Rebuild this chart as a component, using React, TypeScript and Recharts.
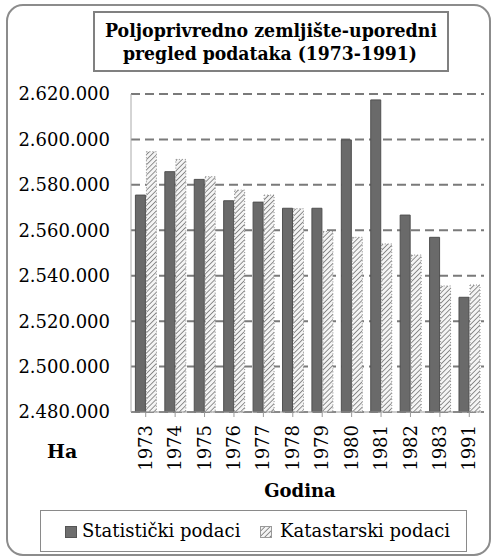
import React from 'react';
import { BarChart, Bar, XAxis, YAxis, CartesianGrid, Legend } from 'recharts';

const YEARS = ['1973', '1974', '1975', '1976', '1977', '1978', '1979', '1980', '1981', '1982', '1983', '1991'];
const STATISTICKI = [2575500, 2585800, 2582400, 2573000, 2572400, 2569700, 2569700, 2599800, 2617400, 2566700, 2556900, 2530500];
const KATASTARSKI = [2594600, 2591200, 2583600, 2577700, 2575500, 2569500, 2559500, 2556900, 2554000, 2549100, 2535500, 2535900];
const Y_TICKS = [2480000, 2500000, 2520000, 2540000, 2560000, 2580000, 2600000, 2620000];

const data = YEARS.map((year, i) => ({ year, stat: STATISTICKI[i], kat: KATASTARSKI[i] }));

const SERIF = '"DejaVu Serif", serif';

const fmt = (v: number) => String(v).replace(/\B(?=(\d{3})+(?!\d))/g, '.');

const YearTick = (props: any) => {
  const { x, y, payload } = props;
  const ty = y + 6;
  return (
    <text
      x={x}
      y={ty}
      transform={`rotate(-90, ${x}, ${ty})`}
      textAnchor="end"
      dy="0.34em"
      style={{ fontFamily: SERIF, fontSize: 18 }}
      fill="#000"
    >
      {payload.value}
    </text>
  );
};

const HatchPattern = ({ id }: { id: string }) => (
  <pattern id={id} patternUnits="userSpaceOnUse" width={3.6} height={3.6} patternTransform="rotate(45)">
    <rect width={3.6} height={3.6} fill="#f4f4f4" />
    <line x1={0} y1={0} x2={0} y2={3.6} stroke="#7e7e7e" strokeWidth={1.7} />
  </pattern>
);

const legendText = { position: 'absolute' as const, top: 6, lineHeight: '28px' };

const LegendBox = () => (
  <div
    style={{
      position: 'relative',
      boxSizing: 'border-box',
      width: 427,
      height: 42,
      border: '1.5px solid #8a8a8a',
      background: '#fff',
      fontFamily: SERIF,
      fontSize: 18,
      color: '#000',
      whiteSpace: 'nowrap',
    }}
  >
    <svg width={12} height={12} style={{ position: 'absolute', left: 24, top: 15 }}>
      <rect x={0.5} y={0.5} width={11} height={11} fill="#6e6e6e" stroke="#555" />
    </svg>
    <span style={{ ...legendText, left: 41 }}>Statistički podaci</span>
    <svg width={12} height={12} style={{ position: 'absolute', left: 219, top: 15 }}>
      <defs>
        <HatchPattern id="hatchLegend" />
      </defs>
      <rect x={0.5} y={0.5} width={11} height={11} fill="url(#hatchLegend)" stroke="#999" />
    </svg>
    <span style={{ ...legendText, left: 239 }}>Katastarski podaci</span>
  </div>
);

const titleStyle = { fontFamily: SERIF, fontWeight: 700, fontSize: 19 };
const labelStyle = { fontFamily: SERIF, fontWeight: 700, fontSize: 18 };

const App: React.FC = () => {
  return (
    <div style={{ position: 'absolute', left: 0, top: 0, width: 492, height: 557, background: '#fff' }}>
      <BarChart
        width={492}
        height={557}
        data={data}
        margin={{ top: 94, right: 8, left: 0, bottom: 43 }}
        barCategoryGap="15%"
        barGap={1}
      >
        <defs>
          <HatchPattern id="hatch" />
        </defs>
        <CartesianGrid vertical={false} stroke="#7a7a7a" strokeWidth={2} strokeDasharray="9 5" />
        <XAxis
          dataKey="year"
          height={60}
          tickSize={5}
          stroke="#9a9a9a"
          tick={<YearTick />}
          interval={0}
        />
        <YAxis
          width={131}
          domain={[2480000, 2620000]}
          ticks={Y_TICKS}
          tickFormatter={fmt}
          tickLine={false}
          tickSize={6}
          tickMargin={15}
          stroke="#aaaaaa"
          tick={{ fill: '#000', style: { fontFamily: SERIF, fontSize: 18 } }}
        />
        <Legend
          verticalAlign="bottom"
          wrapperStyle={{ position: 'absolute', left: 40, top: 510, width: 427, height: 42, bottom: 'auto' }}
          content={() => <LegendBox />}
        />
        <Bar dataKey="stat" name="Statistički podaci" fill="#6a6a6a" stroke="#505050" strokeWidth={1} isAnimationActive={false} />
        <Bar dataKey="kat" name="Katastarski podaci" fill="url(#hatch)" stroke="#8a8a8a" strokeWidth={1} strokeDasharray="1 2" isAnimationActive={false} />
      </BarChart>
      <svg width={492} height={557} style={{ position: 'absolute', left: 0, top: 0, pointerEvents: 'none' }}>
        <rect x={7} y={5} width={483} height={550} rx={16} ry={16} fill="none" stroke="#8c8c8c" strokeWidth={2} />
        <rect x={94} y={12} width={354} height={59} fill="#fff" stroke="#808080" strokeWidth={2} />
        <text x={271} y={37} textAnchor="middle" textLength={332} lengthAdjust="spacingAndGlyphs" style={titleStyle} fill="#000">
          Poljoprivredno  zemljište-uporedni
        </text>
        <text x={270} y={60} textAnchor="middle" textLength={294} lengthAdjust="spacingAndGlyphs" style={titleStyle} fill="#000">
          pregled podataka (1973-1991)
        </text>
        <text x={47} y={458} style={{ ...labelStyle, fontSize: 19 }} fill="#000">
          Ha
        </text>
        <text x={300} y={497} textAnchor="middle" style={labelStyle} fill="#000">
          Godina
        </text>
      </svg>
    </div>
  );
};

export default App;
